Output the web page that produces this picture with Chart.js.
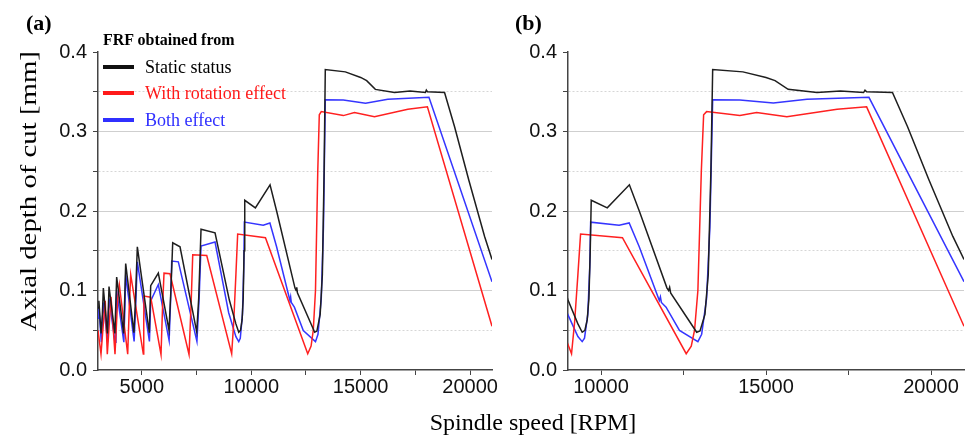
<!DOCTYPE html>
<html><head><meta charset="utf-8">
<script src="https://cdn.jsdelivr.net/npm/chart.js@4/dist/chart.umd.min.js"></script>
<style>
body{margin:0;width:971px;height:438px;background:#fff;position:relative;overflow:hidden;}
canvas{position:absolute;top:0;}
.t{position:absolute;font-family:"Liberation Serif","Times New Roman",serif;white-space:nowrap;line-height:1;color:#000;}
.sw{position:absolute;width:31px;height:4px;left:103px;}
</style></head><body>
<canvas id="ca" width="500" height="438" style="left:0"></canvas>
<canvas id="cb" width="466" height="438" style="left:505px"></canvas>
<div class="t" style="left:26px;top:12px;font-size:22px;font-weight:bold">(a)</div>
<div class="t" style="left:515px;top:12px;font-size:22px;font-weight:bold">(b)</div>
<div class="t" style="left:28px;top:191px;font-size:24px;transform:translate(-50%,-50%) rotate(-90deg) scaleX(1.2)">Axial depth of cut [mm]</div>
<div class="t" style="left:533px;top:410px;font-size:24px;transform:translateX(-50%)">Spindle speed [RPM]</div>
<div class="t" style="left:103px;top:32px;font-size:16px;font-weight:bold">FRF obtained from</div>
<div class="sw" style="top:65px;background:#111"></div>
<div class="sw" style="top:91px;background:#ff1a1a"></div>
<div class="sw" style="top:118px;background:#3030ff"></div>
<div class="t" style="left:145px;top:58px;font-size:18px;color:#000">Static status</div>
<div class="t" style="left:145px;top:84px;font-size:18px;color:#ff1a1a">With rotation effect</div>
<div class="t" style="left:145px;top:111px;font-size:18px;color:#3030ff">Both effect</div>
<script>
const staticRpm = [3000,3040,3140,3200,3244,3430,3470,3503,3770,3810,3853,4170,4220,4265,4640,4700,4797,5345,5408,5756,6245,6330,6413,6747,7510,7600,7707,8347,9000,9300,9430,9512,9582,9634,9674,9704,10190,10860,11160,12000,12050,12080,12110,12900,13000,13150,13250,13330,13384,14300,15000,15274,15671,16546,17256,17957,18000,18050,18832,19290,19939,20662,21000];
const staticDepth = [0.078,0.087,0.046,0.07,0.103,0.046,0.075,0.105,0.046,0.08,0.117,0.046,0.09,0.134,0.047,0.08,0.155,0.047,0.106,0.122,0.05,0.1,0.16,0.155,0.048,0.09,0.177,0.1725,0.088,0.058,0.0475,0.05,0.063,0.09,0.15,0.2135,0.204,0.233,0.2,0.103,0.1,0.104,0.097,0.0475,0.049,0.07,0.12,0.25,0.378,0.375,0.368,0.364,0.353,0.349,0.351,0.349,0.352,0.35,0.349,0.306,0.239,0.168,0.139];

const rotationRpm = [3000,3137,3250,3330,3425,3520,3594,3777,3900,3975,4357,4430,4494,5071,5090,5102,5408,5879,5950,6016,6290,7159,7250,7328,7968,9107,9200,9300,9381,10650,12582,12735,12835,12936,13040,13110,13200,14207,14716,15631,17155,18049,21000];
const rotationDepth = [0.05,0.02,0.06,0.087,0.02,0.06,0.092,0.02,0.09,0.107,0.02,0.08,0.12,0.02,0.06,0.093,0.0916,0.0195,0.08,0.1218,0.121,0.0195,0.08,0.145,0.144,0.0205,0.06,0.12,0.171,0.1665,0.0205,0.03,0.05,0.1,0.25,0.321,0.325,0.32,0.324,0.3186,0.328,0.331,0.055];

const bothRpm = [3000,3040,3150,3200,3244,3440,3470,3503,3780,3820,3853,4180,4230,4265,4650,4720,4797,5350,5408,5756,6250,6320,6367,6671,7520,7620,7707,8347,8970,9300,9430,9500,9600,9660,9686,10549,10854,11159,11768,11800,11830,11972,12378,12936,13050,13200,13300,13384,14207,15223,16241,18119,21000];
const bothDepth = [0.065,0.08,0.035,0.06,0.085,0.035,0.065,0.09,0.035,0.07,0.1,0.035,0.08,0.12,0.036,0.08,0.136,0.036,0.087,0.1075,0.037,0.09,0.137,0.136,0.036,0.09,0.156,0.161,0.072,0.042,0.0357,0.04,0.07,0.13,0.186,0.182,0.185,0.155,0.0874,0.092,0.085,0.079,0.0497,0.0357,0.045,0.09,0.18,0.34,0.3396,0.3357,0.3406,0.343,0.111];

const xTickValues = [5000, 7500, 10000, 12500, 15000, 17500, 20000];
const xMajorLabels = [5000, 10000, 15000, 20000];
const yTickValues = [0, 0.05, 0.1, 0.15, 0.2, 0.25, 0.3, 0.35, 0.4];
const yMajorLabels = [0.0, 0.1, 0.2, 0.3, 0.4];

const seriesColors = {stat:'#1e1e1e', rot:'#ff2020', both:'#3535ff'};

function pts(xs, ys){ return xs.map((x,i)=>({x:x, y:ys[i]})); }
function isMajorY(v){ return yMajorLabels.some(m => Math.abs(m - v) < 1e-6); }

function makeChart(id, xmin, xmax, yWidth, padRight){
  return new Chart(document.getElementById(id), {
    type:'line',
    data:{datasets:[
      {label:'Static status', data:pts(staticRpm, staticDepth), borderColor:seriesColors.stat},
      {label:'With rotation effect', data:pts(rotationRpm, rotationDepth), borderColor:seriesColors.rot},
      {label:'Both effect', data:pts(bothRpm, bothDepth), borderColor:seriesColors.both}
    ]},
    options:{
      responsive:false, animation:false, devicePixelRatio:1,
      layout:{padding:{top:52, right:padRight, left:0, bottom:0}},
      elements:{point:{radius:0}, line:{borderWidth:1.5, tension:0}},
      plugins:{legend:{display:false}, tooltip:{enabled:false}},
      scales:{
        x:{type:'linear', min:xmin, max:xmax,
          afterBuildTicks:s=>{ s.ticks = xTickValues.filter(v=>v>=xmin && v<=xmax).map(v=>({value:v})); },
          afterFit:s=>{s.height=68;},
          ticks:{autoSkip:false, maxRotation:0, minRotation:0, padding:0,
            color:'#111', font:{family:'"Liberation Sans", Arial, sans-serif', size:20},
            callback:v=> xMajorLabels.includes(v) ? String(v) : ''},
          grid:{drawOnChartArea:false, drawTicks:true, tickLength:5, tickColor:'#444', tickWidth:1},
          border:{color:'#444', width:1.5}
        },
        y:{min:0, max:0.4,
          afterBuildTicks:s=>{ s.ticks = yTickValues.map(v=>({value:v})); },
          afterFit:s=>{s.width=yWidth;},
          ticks:{autoSkip:false, padding:6, color:'#111',
            font:{family:'"Liberation Sans", Arial, sans-serif', size:20},
            callback:v=> isMajorY(v) ? v.toFixed(1) : ''},
          grid:{tickLength:5, tickColor:'#444', tickWidth:1,
            color:ctx=>{ if(!ctx.tick) return '#ccc'; const v=ctx.tick.value;
              if(v<1e-6 || v>0.4-1e-6) return 'rgba(0,0,0,0)';
              return isMajorY(v) ? '#cfcfcf' : '#d6d6d6'; },
            lineWidth:1},
          border:{color:'#444', width:1.5,
            dash:ctx=>{ if(!ctx.tick) return []; return isMajorY(ctx.tick.value) ? [] : [2,2]; }}
        }
      }
    }
  });
}
makeChart('ca', 3000, 21000, 98, 8);
makeChart('cb', 9000, 21000, 63, 7);
</script>
</body></html>
